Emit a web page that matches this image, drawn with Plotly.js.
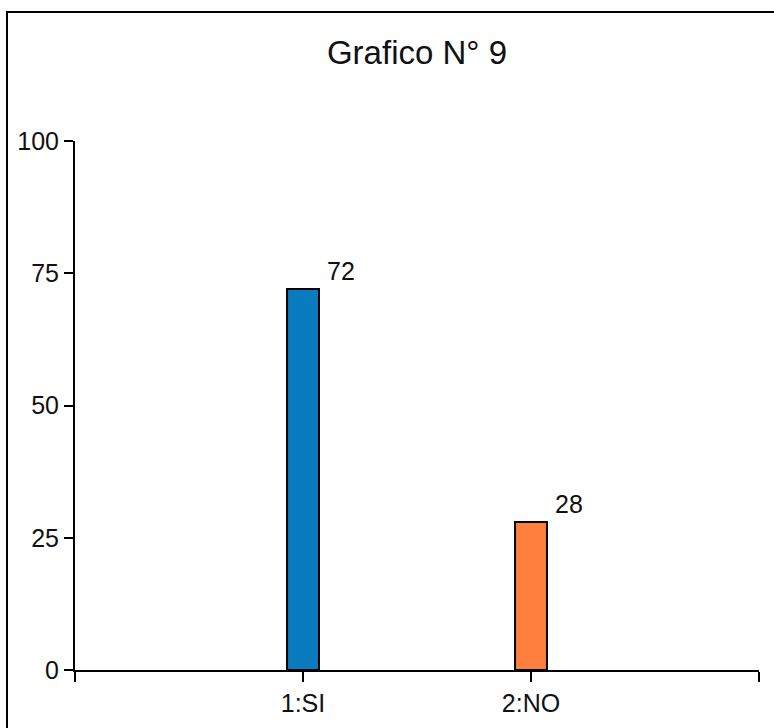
<!DOCTYPE html>
<html>
<head>
<meta charset="utf-8">
<script src="https://cdn.plot.ly/plotly-3.0.1.min.js"></script>
<style>
  html, body { margin: 0; padding: 0; background: #fff; }
  #chart { width: 774px; height: 728px; }
  #frame { position: absolute; left: 6px; top: 11px; width: 900px; height: 900px;
           border-left: 2px solid #000; border-top: 2px solid #000; pointer-events: none; }
</style>
</head>
<body>
<div id="chart"></div>
<div id="frame"></div>
<script>
const categories = ['1:SI', '2:NO'];
const positions = [1, 2];
const values = [72, 28];
const barColors = ['#0a7bbf', '#ff7f3f'];
const yTicks = [0, 25, 50, 75, 100];
const titleText = 'Grafico N° 9';

const font = 'Liberation Sans, Arial, sans-serif';

const trace = {
  type: 'bar',
  x: positions,
  y: values,
  width: 0.14,
  marker: { color: barColors, line: { color: '#000', width: 2 } },
  hoverinfo: 'none'
};

const annotations = values.map((v, i) => ({
  x: positions[i], y: v, xref: 'x', yref: 'y',
  text: String(v), showarrow: false,
  xanchor: 'left', yanchor: 'bottom', xshift: 22, yshift: 2,
  font: { family: font, size: 25, color: '#111' }
}));

const layout = {
  width: 774, height: 728,
  margin: { l: 75, r: 15, t: 141, b: 58 },
  paper_bgcolor: '#fff', plot_bgcolor: '#fff',
  showlegend: false,
  title: {
    text: titleText, x: 0.5, xref: 'paper', xanchor: 'center',
    y: 1 - 52 / 728, yref: 'container', yanchor: 'middle',
    font: { family: font, size: 33, color: '#111' }
  },
  xaxis: {
    range: [0, 3], tickvals: [0, 1, 2, 3], ticktext: ['', categories[0], categories[1], ''],
    showgrid: false, zeroline: false, showline: true, linecolor: '#000', linewidth: 2,
    ticks: 'outside', ticklen: 10, tickwidth: 2, tickcolor: '#000',
    tickfont: { family: font, size: 25, color: '#111' }, fixedrange: true
  },
  yaxis: {
    range: [0, 100], tickvals: yTicks,
    showgrid: false, zeroline: false, showline: true, linecolor: '#000', linewidth: 2,
    ticks: 'outside', ticklen: 9, tickwidth: 2, tickcolor: '#000',
    tickfont: { family: font, size: 25, color: '#111' }, fixedrange: true
  },
  annotations: annotations
};

Plotly.newPlot('chart', [trace], layout, { displayModeBar: false, staticPlot: true });
</script>
</body>
</html>
